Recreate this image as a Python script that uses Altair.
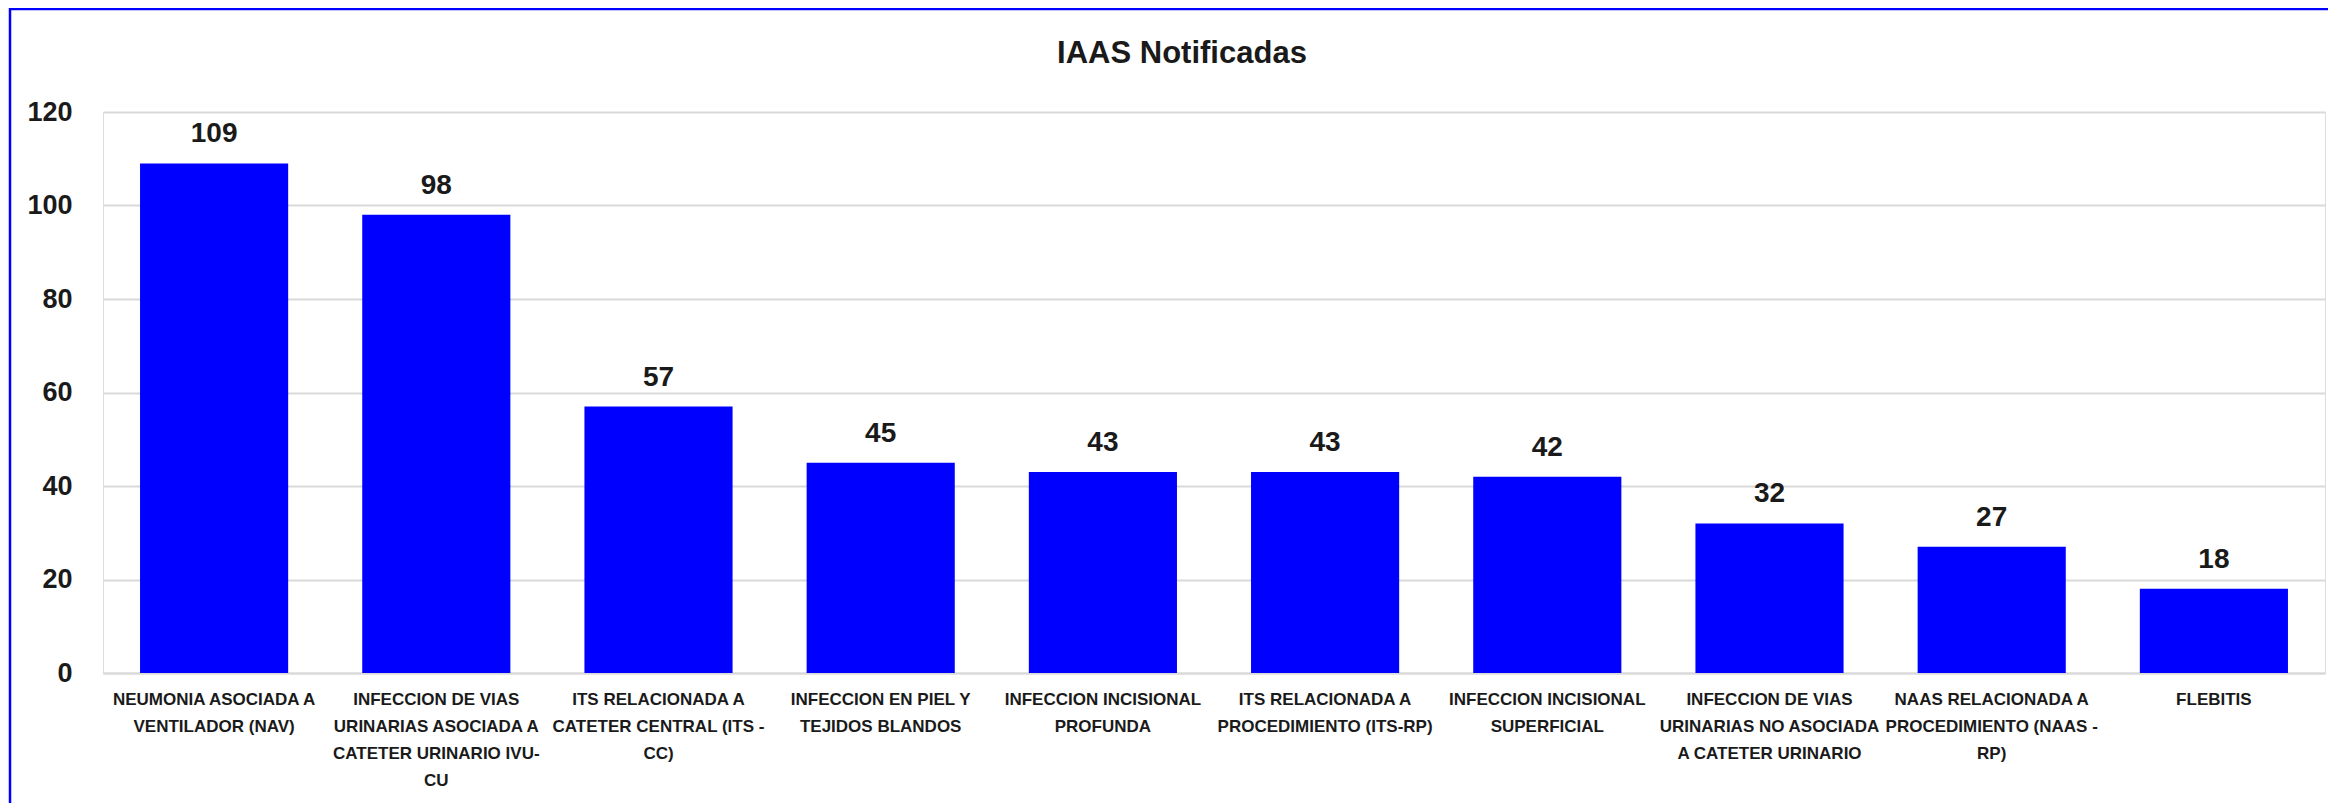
import altair as alt
import pandas as pd

categories = [
    "NEUMONIA ASOCIADA A|VENTILADOR (NAV)",
    "INFECCION DE VIAS|URINARIAS ASOCIADA A|CATETER URINARIO IVU-|CU",
    "ITS RELACIONADA A|CATETER CENTRAL (ITS -|CC)",
    "INFECCION EN PIEL Y|TEJIDOS BLANDOS",
    "INFECCION INCISIONAL|PROFUNDA",
    "ITS RELACIONADA A|PROCEDIMIENTO (ITS-RP)",
    "INFECCION INCISIONAL|SUPERFICIAL",
    "INFECCION DE VIAS|URINARIAS NO ASOCIADA|A CATETER URINARIO",
    "NAAS RELACIONADA A|PROCEDIMIENTO (NAAS -|RP)",
    "FLEBITIS",
]
values = [109, 98, 57, 45, 43, 43, 42, 32, 27, 18]
y_ticks = [0, 20, 40, 60, 80, 100, 120]
title_text = "IAAS Notificadas"

df = pd.DataFrame({"cat": categories, "val": values})

SANS = "Liberation Sans, Arial, sans-serif"

base = alt.Chart(df)

bars = base.mark_bar(color="#0000ff").encode(
    x=alt.X(
        "cat:N",
        sort=categories,
        scale=alt.Scale(paddingInner=1 / 3, paddingOuter=1 / 6),
        axis=alt.Axis(
            title=None,
            labelAngle=0,
            labelExpr="split(datum.value, '|')",
            labelFont=SANS,
            labelFontSize=17,
            labelFontWeight="bold",
            labelColor="#1a1a1a",
            labelLineHeight=27,
            labelPadding=18,
            labelBaseline="top",
            ticks=False,
            domainColor="#d9d9d9",
            domainWidth=2,
            grid=False,
            labelLimit=400,
        ),
    ),
    y=alt.Y(
        "val:Q",
        scale=alt.Scale(domain=[0, 120], nice=False),
        axis=alt.Axis(
            title=None,
            values=y_ticks,
            labelFont=SANS,
            labelFontSize=27,
            labelFontWeight="bold",
            labelColor="#1a1a1a",
            labelPadding=31,
            ticks=False,
            domain=False,
            gridColor="#d9d9d9",
            gridWidth=2,
        ),
    ),
)

labels = base.mark_text(
    baseline="alphabetic",
    dy=-21,
    font=SANS,
    fontSize=28,
    fontWeight="bold",
    color="#1a1a1a",
).encode(
    x=alt.X("cat:N", sort=categories),
    y="val:Q",
    text="val:Q",
)

frame = alt.Chart(pd.DataFrame({"a": [0]})).mark_rect(
    fill=None, stroke="#0000ff", strokeWidth=2.5
).encode(
    x=alt.value(-93),
    x2=alt.value(2260),
    y=alt.value(-103),
    y2=alt.value(720),
)

chart = (
    alt.layer(bars, labels, frame)
    .properties(
        width=2222,
        height=561,
        autosize=alt.AutoSizeParams(type="none"),
        padding={"left": 95, "top": 104, "right": 3, "bottom": 130},
        title=alt.TitleParams(
            text=title_text,
            font=SANS,
            fontSize=31,
            fontWeight="bold",
            color="#1a1a1a",
            anchor="middle",
            frame="group",
            dx=-32,
            offset=-62,
        ),
    )
    .configure_view(stroke=None)
    .configure(background="white")
)

chart.save("out.html", embed_options={"renderer": "svg", "actions": False})
